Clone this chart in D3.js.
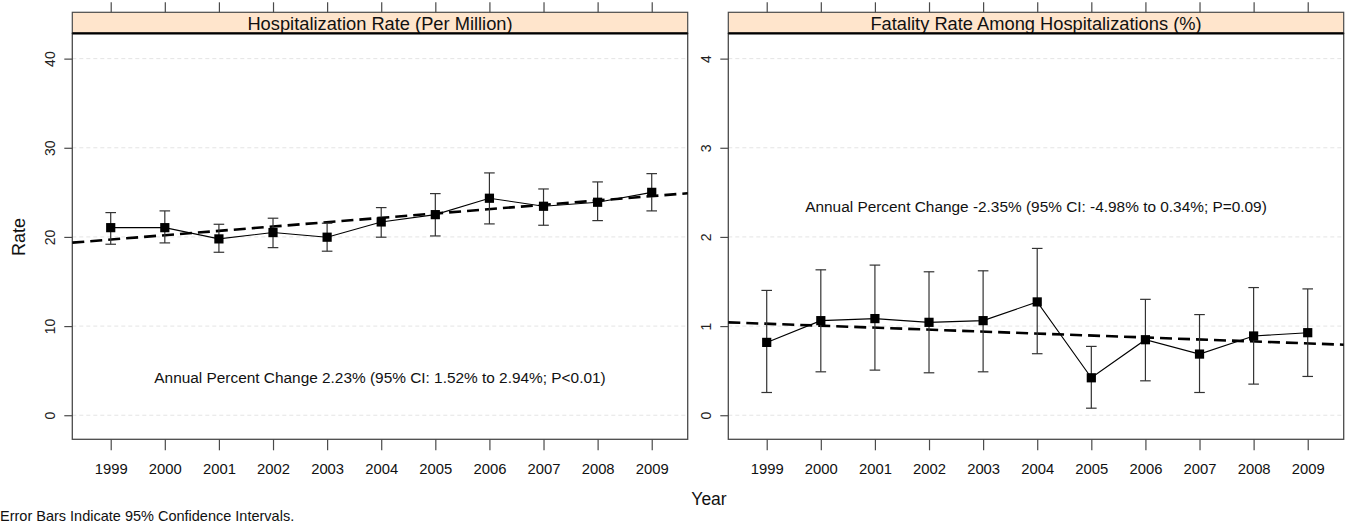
<!DOCTYPE html>
<html>
<head>
<meta charset="utf-8">
<script src="https://cdn.jsdelivr.net/npm/d3@7"></script>
<style>
  html, body { margin: 0; padding: 0; background: #fff; }
  svg { display: block; font-family: "Liberation Sans", Arial, Helvetica, sans-serif; }
</style>
</head>
<body>
<svg id="chart" width="1352" height="523"></svg>
<script>
// ---- data ----
const years = [1999, 2000, 2001, 2002, 2003, 2004, 2005, 2006, 2007, 2008, 2009];

const hospRate  = [21.04, 21.04, 19.78, 20.49, 19.97, 21.68, 22.50, 24.34, 23.44, 23.89, 25.00];
const hospLower = [19.18, 19.33, 18.28, 18.80, 18.40, 19.97, 20.11, 21.46, 21.31, 21.83, 22.92];
const hospUpper = [22.73, 22.92, 21.42, 22.10, 21.54, 23.29, 24.86, 27.18, 25.38, 26.17, 27.10];

const fatalRate  = [0.817, 1.061, 1.084, 1.042, 1.061, 1.271, 0.420, 0.847, 0.686, 0.889, 0.926];
const fatalLower = [0.255, 0.487, 0.506, 0.476, 0.487, 0.690, 0.079, 0.386, 0.255, 0.349, 0.435];
const fatalUpper = [1.400, 1.631, 1.684, 1.609, 1.620, 1.871, 0.772, 1.300, 1.129, 1.432, 1.417];

// fitted trend (annual percent change), value at the two panel edges
const trendYears = [1998.29, 2009.665];
const hospTrend  = [19.36, 24.90];
const fatalTrend = [1.042, 0.791];

const hospTicks  = [0, 10, 20, 30, 40];
const fatalTicks = [0, 1, 2, 3, 4];

const panelTitles = ["Hospitalization Rate (Per Million)", "Fatality Rate Among Hospitalizations (%)"];
const apcTexts = [
  "Annual Percent Change 2.23% (95% CI: 1.52% to 2.94%; P<0.01)",
  "Annual Percent Change -2.35% (95% CI: -4.98% to 0.34%; P=0.09)"
];
const yLabel = "Rate";
const xLabel = "Year";
const footnote = "Error Bars Indicate 95% Confidence Intervals.";

// ---- layout ----
const svg = d3.select("#chart");
svg.append("rect").attr("width", 1352).attr("height", 523).attr("fill", "#fff");

const boxTop = 12.3, stripBottom = 33.4, boxBottom = 439.3, panelW = 615.4;
const panelLefts = [72.3, 728.3];

const panels = [
  { rate: hospRate, lo: hospLower, hi: hospUpper, trend: hospTrend, ticks: hospTicks,
    ydom: [-2.70, 42.83], apcValue: 3.6 },
  { rate: fatalRate, lo: fatalLower, hi: fatalUpper, trend: fatalTrend, ticks: fatalTicks,
    ydom: [-0.270, 4.283], apcValue: 2.28 }
];

const borderCol = "#4a4a4a";

panels.forEach((p, i) => {
  const left = panelLefts[i], right = left + panelW;
  const x = d3.scaleLinear().domain([1998.29, 2009.665]).range([left, right]);
  const y = d3.scaleLinear().domain(p.ydom).range([boxBottom, stripBottom]);
  const g = svg.append("g");

  // grid lines
  g.append("g").selectAll("line").data(p.ticks).join("line")
    .attr("x1", left).attr("x2", right)
    .attr("y1", d => y(d)).attr("y2", d => y(d))
    .attr("stroke", "#e4e4e4").attr("stroke-width", 1).attr("stroke-dasharray", "4,3");

  // strip
  g.append("rect").attr("x", left).attr("y", boxTop).attr("width", panelW)
    .attr("height", stripBottom - boxTop).attr("fill", "#ffe5cc")
    .attr("stroke", borderCol).attr("stroke-width", 1.2);
  g.append("text").attr("x", (left + right) / 2).attr("y", 30.4)
    .attr("text-anchor", "middle").attr("font-size", 18.3).attr("fill", "#111")
    .text(panelTitles[i]);

  // panel box
  g.append("rect").attr("x", left).attr("y", stripBottom).attr("width", panelW)
    .attr("height", boxBottom - stripBottom).attr("fill", "none")
    .attr("stroke", borderCol).attr("stroke-width", 1.3);
  g.append("line").attr("x1", left).attr("x2", right)
    .attr("y1", stripBottom).attr("y2", stripBottom)
    .attr("stroke", "#000").attr("stroke-width", 2.2);

  // bottom axis
  const xb = g.append("g").attr("transform", `translate(0,${boxBottom})`)
    .call(d3.axisBottom(x).tickValues(years).tickFormat(d3.format("d")).tickSize(11));
  xb.select(".domain").remove();
  xb.selectAll(".tick line").attr("stroke", borderCol).attr("stroke-width", 1.2);
  xb.selectAll(".tick text").attr("y", 34.7).attr("dy", null)
    .attr("font-size", 14.8).attr("fill", "#111").attr("font-family", null);

  // top axis (ticks only)
  const xt = g.append("g").attr("transform", `translate(0,${boxTop})`)
    .call(d3.axisTop(x).tickValues(years).tickFormat("").tickSize(10));
  xt.select(".domain").remove();
  xt.selectAll(".tick line").attr("stroke", borderCol).attr("stroke-width", 1.2);

  // left axis with rotated labels
  const ya = g.append("g").attr("transform", `translate(${left},0)`)
    .call(d3.axisLeft(y).tickValues(p.ticks).tickFormat(d3.format("d")).tickSize(8));
  ya.select(".domain").remove();
  ya.selectAll(".tick line").attr("stroke", borderCol).attr("stroke-width", 1.2);
  ya.selectAll(".tick text")
    .attr("transform", "rotate(-90)")
    .attr("x", 0).attr("y", -17.4).attr("dy", null)
    .attr("text-anchor", "middle").attr("font-size", 14).attr("fill", "#222")
    .attr("font-family", null);

  // trend line (dashed)
  const trendLine = d3.line().x((d, k) => x(trendYears[k])).y(d => y(d));
  g.append("path").datum(p.trend).attr("d", trendLine)
    .attr("fill", "none").attr("stroke", "#000").attr("stroke-width", 2.6)
    .attr("stroke-dasharray", "12,6");

  // error bars
  const eb = g.append("g").attr("stroke", "#333").attr("stroke-width", 1.2);
  years.forEach((yr, k) => {
    const cx = x(yr);
    eb.append("line").attr("x1", cx).attr("x2", cx).attr("y1", y(p.lo[k])).attr("y2", y(p.hi[k]));
    eb.append("line").attr("x1", cx - 5.3).attr("x2", cx + 5.3).attr("y1", y(p.lo[k])).attr("y2", y(p.lo[k]));
    eb.append("line").attr("x1", cx - 5.3).attr("x2", cx + 5.3).attr("y1", y(p.hi[k])).attr("y2", y(p.hi[k]));
  });

  // connecting line
  const line = d3.line().x((d, k) => x(years[k])).y(d => y(d));
  g.append("path").datum(p.rate).attr("d", line)
    .attr("fill", "none").attr("stroke", "#000").attr("stroke-width", 1.1);

  // square markers
  g.append("g").selectAll("rect").data(p.rate).join("rect")
    .attr("x", (d, k) => x(years[k]) - 4.6).attr("y", d => y(d) - 4.6)
    .attr("width", 9.2).attr("height", 9.2).attr("fill", "#000");

  // APC annotation
  g.append("text").attr("x", (left + right) / 2).attr("y", y(p.apcValue))
    .attr("text-anchor", "middle").attr("font-size", 15.4).attr("fill", "#111")
    .text(apcTexts[i]);
});

// axis titles and footnote
svg.append("text").attr("transform", "translate(24.8,237) rotate(-90)")
  .attr("text-anchor", "middle").attr("font-size", 18).attr("fill", "#111").text(yLabel);
svg.append("text").attr("x", 709).attr("y", 505)
  .attr("text-anchor", "middle").attr("font-size", 17.5).attr("fill", "#111").text(xLabel);
svg.append("text").attr("x", 0).attr("y", 520.5)
  .attr("font-size", 14.5).attr("fill", "#111").text(footnote);
</script>
</body>
</html>
